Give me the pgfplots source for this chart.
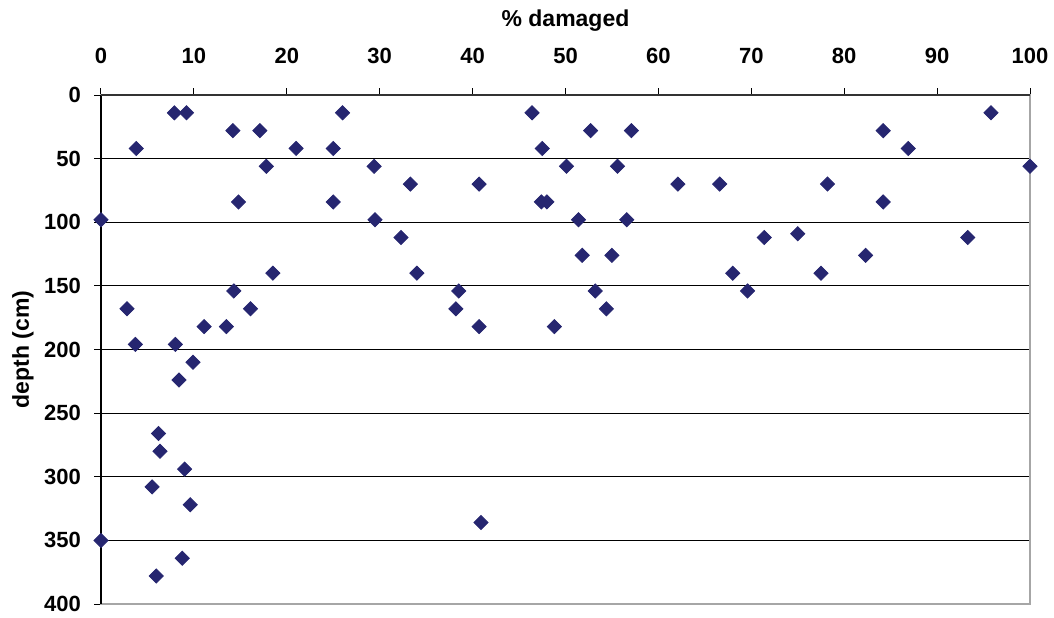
\documentclass[border=0pt]{standalone}
\usepackage{pgfplots}
\pgfplotsset{compat=1.18}
\usepackage{fontspec}
\setmainfont{Liberation Sans}
\definecolor{navy}{RGB}{38,38,112}
\begin{document}
\begin{tikzpicture}
\begin{axis}[
  at={(0,0)}, anchor=south west,
  scale only axis,
  width=464.5pt, height=254.5pt,
  xmin=0, xmax=100, ymin=0, ymax=400,
  y dir=reverse,
  xtick={0,10,...,100}, ytick={0,50,...,400},
  xtick pos=upper, ytick pos=left,
  xticklabel pos=upper,
  tick align=outside,
  major tick length=3.5pt,
  ymajorgrids,
  grid style={black, line width=0.5pt},
  axis line style={gray!70, line width=1pt},
  tick style={black, line width=0.5pt},
  clip=false,
  font=\bfseries\fontsize{11pt}{13pt}\selectfont,
  /pgf/number format/assume math mode=true,
  ticklabel style={font=\bfseries\fontsize{11pt}{13pt}\selectfont},
  xticklabel style={anchor=center, yshift=16pt},
  yticklabel style={xshift=-3pt},
  xlabel={\% damaged},
  x label style={at={(axis description cs:0.5,1.147)}, anchor=center, font=\bfseries\fontsize{11.5pt}{13pt}\selectfont},
  ylabel={depth (cm)},
  y label style={at={(axis description cs:-0.084,0.5)}, anchor=center, font=\bfseries\fontsize{11.5pt}{13pt}\selectfont},
]
\draw[black, line width=1pt] (axis cs:0,0) -- (axis cs:0,400);
\draw[black!80, line width=0.8pt] (axis cs:0,0) -- (axis cs:100,0);
\addplot[only marks, mark=square*, mark size=2.5pt, mark options={rotate=45, fill=navy, draw=navy}] coordinates {
(7.9,14) (9.2,14) (26.0,14) (46.4,14) (95.8,14)
(14.2,28) (17.1,28) (52.7,28) (57.1,28) (84.2,28)
(3.8,42) (21.0,42) (25.0,42) (47.5,42) (86.9,42)
(17.8,56) (29.4,56) (50.1,56) (55.6,56) (100,56)
(33.3,70) (40.7,70) (62.1,70) (66.6,70) (78.2,70)
(14.8,84) (25.0,84) (47.4,84) (48.0,84) (84.2,84)
(0,98) (29.5,98) (51.4,98) (56.6,98)
(75.0,109)
(32.3,112) (71.4,112) (93.3,112)
(51.8,126) (55.0,126) (82.3,126)
(18.5,140) (34.0,140) (68.0,140) (77.5,140)
(14.3,154) (38.5,154) (53.2,154) (69.6,154)
(2.8,168) (16.1,168) (38.2,168) (54.4,168)
(11.1,182) (13.5,182) (40.7,182) (48.8,182)
(3.7,196) (8.0,196)
(9.9,210) (8.4,224) (6.2,266) (6.35,280) (9.0,294) (5.5,308) (9.6,322)
(40.9,336) (0,350) (8.75,364) (5.95,378)
};
\end{axis}
\pgfresetboundingbox
\path (-50.5pt,-6.5pt) rectangle (476.5pt,302pt);
\end{tikzpicture}
\end{document}
